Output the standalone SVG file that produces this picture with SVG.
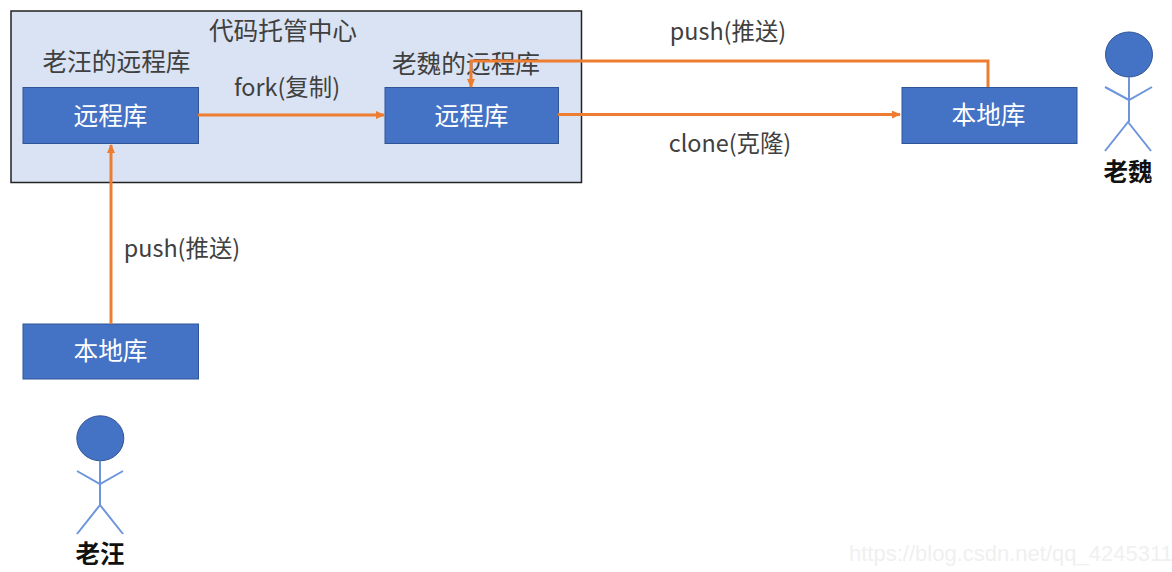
<svg xmlns="http://www.w3.org/2000/svg" width="1172" height="572" viewBox="0 0 1172 572">
<style>
text{font-family:"Noto Sans CJK SC","Noto Sans","Liberation Sans",sans-serif;font-size:24.700px;fill:#404040;text-anchor:middle}
.w{fill:#fff}
.b{font-weight:700;fill:#111;font-size:24.500px}
.e{font-size:23.400px}
.box{fill:#4472c4;stroke:#2f5597;stroke-width:1}
.l{fill:none;stroke:#6d95dc;stroke-width:2}
.c{fill:none;stroke:#ed7d31;stroke-width:3}
.wm{font-family:"Liberation Sans",sans-serif;font-size:22px;fill:#f0f0f0;text-anchor:start}
</style>
<defs><marker id="a" markerWidth="9" markerHeight="8" refX="8" refY="4" orient="auto" markerUnits="userSpaceOnUse"><path d="M0 0L9 4L0 8Z" fill="#ed7d31"/></marker></defs>
<g id="hub"><rect x="11" y="11" width="570.500" height="171.500" fill="#dae3f3" stroke="#222" stroke-width="1.500"/><text x="283" y="40">代码托管中心</text><text x="116.500" y="71">老汪的远程库</text><text x="466" y="73">老魏的远程库</text></g>
<g id="remote-wang"><rect class="box" x="23" y="87.500" width="175.500" height="56"/><text class="w" x="110.500" y="125">远程库</text></g>
<g id="remote-wei"><rect class="box" x="385" y="87.500" width="173.500" height="56"/><text class="w" x="471.500" y="125">远程库</text></g>
<g id="local-wei"><rect class="box" x="902" y="87.500" width="175" height="56"/><text class="w" x="988.500" y="124">本地库</text></g>
<g id="local-wang"><rect class="box" x="23" y="324" width="175.500" height="55"/><text class="w" x="110.500" y="360">本地库</text></g>
<g id="person-wei"><ellipse cx="1129" cy="54.500" rx="23.500" ry="22.500" fill="#4472c4" stroke="#2f5597"/><path class="l" d="M1129 77V122M1105 87L1129 100L1152 87M1105 151L1128 122L1151 151"/><text class="b" x="1128" y="181">老魏</text></g>
<g id="person-wang"><ellipse cx="100.300" cy="438.300" rx="23.500" ry="22.500" fill="#4472c4" stroke="#2f5597"/><path class="l" d="M100 461V505M77 471L100 484L123 471M77 534L100 505L123 534"/><text class="b" x="100" y="563">老汪</text></g>
<g id="connectors"><path class="c" marker-end="url(#a)" d="M198 115H384"/><path class="c" marker-end="url(#a)" d="M558 114.500H900"/><path class="c" marker-end="url(#a)" d="M988 87V61H471V87"/><path class="c" marker-end="url(#a)" d="M111 324V145"/></g>
<g id="labels"><text class="e" x="287" y="96">fork(复制)</text><text class="e" x="728" y="40">push(推送)</text><text class="e" x="730" y="152">clone(克隆)</text><text class="e" x="182" y="257">push(推送)</text></g>
<text class="wm" x="849" y="561">https://blog.csdn.net/qq_4245311</text>
</svg>
